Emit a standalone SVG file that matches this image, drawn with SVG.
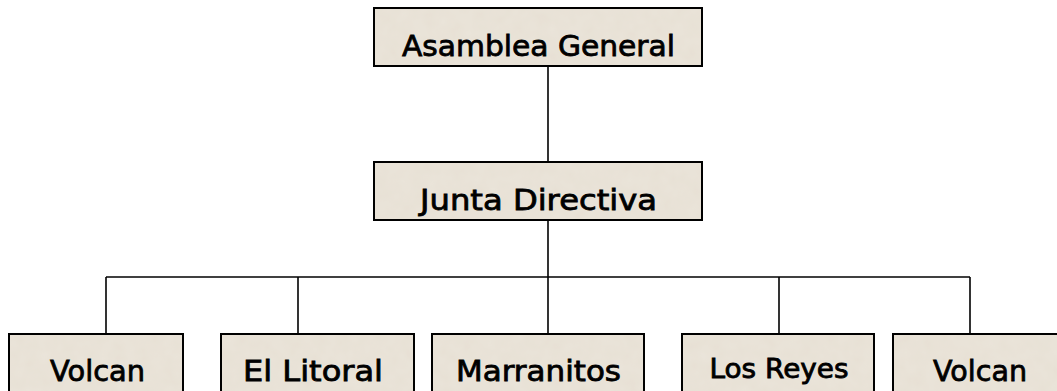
<svg xmlns="http://www.w3.org/2000/svg" width="1057" height="391" viewBox="0 0 1057 391">
<defs>
<filter id="tex" x="0" y="0" width="100%" height="100%">
<feTurbulence type="fractalNoise" baseFrequency="0.08" numOctaves="2" seed="3" result="n"/>
<feColorMatrix in="n" type="matrix" values="0 0 0 0 0.86  0 0 0 0 0.83  0 0 0 0 0.77  0 0 0 0.4 0" result="c"/>
<feComposite in="c" in2="SourceGraphic" operator="in" result="t"/>
<feMerge><feMergeNode in="SourceGraphic"/><feMergeNode in="t"/></feMerge>
</filter>
</defs>
<style>
.fill{fill:#e7e0d4;stroke:none}
.box{fill:none;stroke:#000;stroke-width:2}
.lbl{font-family:"Comic Sans MS","DejaVu Sans",sans-serif;font-size:29px;fill:#000;stroke:#000;stroke-width:0.8;text-anchor:middle}
.con{fill:none;stroke:#000;stroke-width:1.6}
</style>
<rect width="1057" height="391" fill="#fff"/>
<g id="connectors">
<line class="con" x1="548" y1="66" x2="548" y2="162"/>
<line class="con" x1="548" y1="220" x2="548" y2="334"/>
<line class="con" x1="106" y1="277" x2="970" y2="277"/>
<line class="con" x1="106" y1="277" x2="106" y2="334"/>
<line class="con" x1="298" y1="277" x2="298" y2="334"/>
<line class="con" x1="779" y1="277" x2="779" y2="334"/>
<line class="con" x1="970" y1="277" x2="970" y2="334"/>
</g>
<g id="asamblea">
<rect class="fill" x="374" y="8" width="328" height="58" filter="url(#tex)"/>
<rect class="box" x="374" y="8" width="328" height="58"/>
<text class="lbl" x="538.5" y="56" textLength="273" lengthAdjust="spacingAndGlyphs">Asamblea General</text>
</g>
<g id="junta">
<rect class="fill" x="374" y="162" width="328" height="58" filter="url(#tex)"/>
<rect class="box" x="374" y="162" width="328" height="58"/>
<text class="lbl" x="538.5" y="210" textLength="237" lengthAdjust="spacingAndGlyphs">Junta Directiva</text>
</g>
<g id="volcan1">
<rect class="fill" x="9" y="334" width="174" height="70" filter="url(#tex)"/>
<rect class="box" x="9" y="334" width="174" height="70"/>
<text class="lbl" x="97.5" y="381" textLength="95" lengthAdjust="spacingAndGlyphs">Volcan</text>
</g>
<g id="litoral">
<rect class="fill" x="221" y="334" width="193" height="70" filter="url(#tex)"/>
<rect class="box" x="221" y="334" width="193" height="70"/>
<text class="lbl" x="313" y="381" textLength="140" lengthAdjust="spacingAndGlyphs">El Litoral</text>
</g>
<g id="marranitos">
<rect class="fill" x="432" y="334" width="212" height="70" filter="url(#tex)"/>
<rect class="box" x="432" y="334" width="212" height="70"/>
<text class="lbl" x="538.5" y="381" textLength="165" lengthAdjust="spacingAndGlyphs">Marranitos</text>
</g>
<g id="losreyes">
<rect class="fill" x="682" y="334" width="192" height="70" filter="url(#tex)"/>
<rect class="box" x="682" y="334" width="192" height="70"/>
<text class="lbl" x="779" y="378" style="font-size:26px" textLength="139" lengthAdjust="spacingAndGlyphs">Los Reyes</text>
</g>
<g id="volcan2">
<rect class="fill" x="893" y="334" width="180" height="70" filter="url(#tex)"/>
<rect class="box" x="893" y="334" width="180" height="70"/>
<text class="lbl" x="980" y="381" textLength="94" lengthAdjust="spacingAndGlyphs">Volcan</text>
</g>
</svg>
